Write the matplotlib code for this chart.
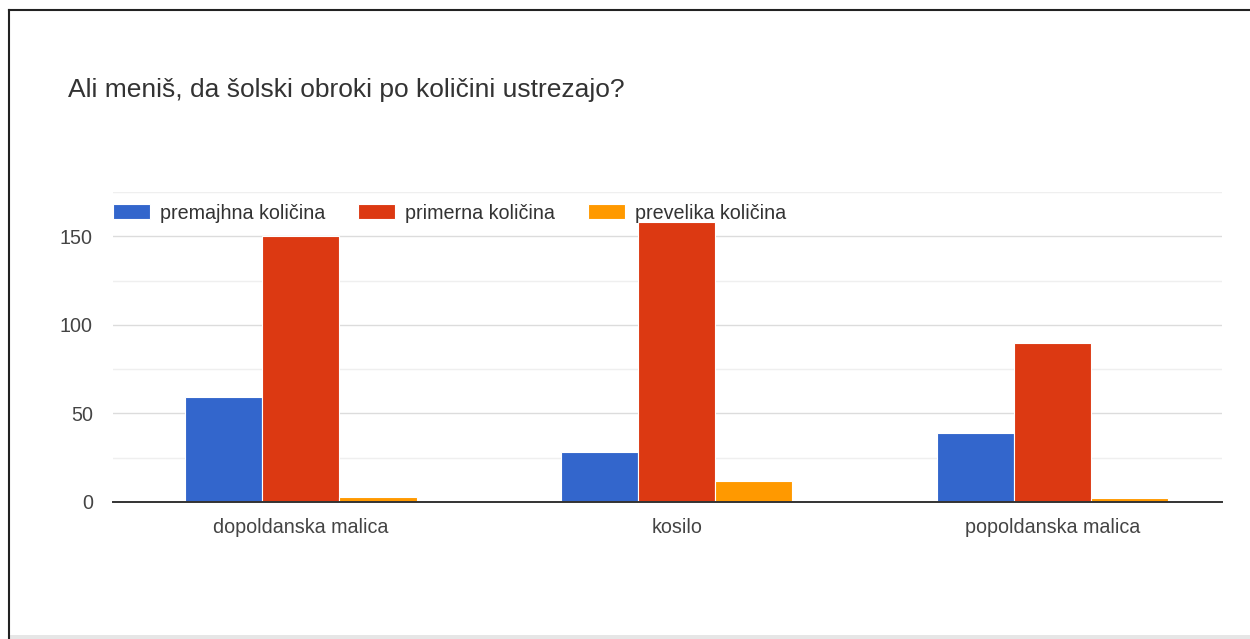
import numpy as np
import matplotlib.pyplot as plt
from matplotlib.patches import Rectangle
from matplotlib.lines import Line2D

plt.rcParams['font.family'] = ['Liberation Sans', 'DejaVu Sans']

# survey answers per meal
meals = ['dopoldanska malica', 'kosilo', 'popoldanska malica']
series_names = ['premajhna količina', 'primerna količina', 'prevelika količina']
too_small = [59, 28, 39]
just_right = [150, 158, 90]
too_big = [3, 12, 2]
colors = ['#3366cc', '#dc3912', '#ff9900']

fig = plt.figure(figsize=(12.5, 6.39), dpi=100)
ax = fig.add_axes([0.0904, 0.2144, 0.8872, 0.4851])

x = np.arange(len(meals))
w = 0.205
for i, (vals, name, c) in enumerate(zip([too_small, just_right, too_big], series_names, colors)):
    ax.bar(x + (i - 1) * w, vals, width=w, color=c, edgecolor='white',
           linewidth=0.8, label=name, zorder=3)

ax.set_xlim(-0.5, 2.45)
ax.set_ylim(0, 175)
ax.set_yticks([0, 50, 100, 150])
ax.set_yticks([25, 75, 125, 175], minor=True)
ax.set_xticks(x)
ax.set_xticklabels(meals)
ax.tick_params(axis='both', length=0, labelsize=14.2, labelcolor='#444444')
ax.tick_params(axis='y', pad=14.5)
ax.tick_params(axis='x', pad=11.5)
ax.tick_params(axis='y', which='minor', length=0)

ax.grid(axis='y', which='major', color='#dcdcdc', linewidth=1, zorder=0)
ax.grid(axis='y', which='minor', color='#efefef', linewidth=1, zorder=0)
for s in ['top', 'right', 'left']:
    ax.spines[s].set_visible(False)
ax.spines['bottom'].set_color('#333333')
ax.spines['bottom'].set_linewidth(1.4)
ax.spines['bottom'].set_zorder(4)

ax.legend(loc='center left', bbox_to_anchor=(0, 0.932), ncol=3, frameon=False,
          fontsize=14.2, handlelength=1.88, handleheight=0.81, handletextpad=0.5,
          columnspacing=1.68, borderpad=0, borderaxespad=0, labelcolor='#333333')

fig.text(68 / 1250, 1 - 90 / 639, 'Ali meniš, da šolski obroki po količini ustrezajo?',
         fontsize=19, color='#333333', va='center', ha='left')

# page frame around the chart
fig.add_artist(Line2D([9 / 1250, 9 / 1250], [0, 1 - 10 / 639], transform=fig.transFigure,
                      color='#222222', linewidth=1.5))
fig.add_artist(Line2D([9 / 1250, 1], [1 - 10 / 639, 1 - 10 / 639], transform=fig.transFigure,
                      color='#222222', linewidth=1.5))
fig.add_artist(Rectangle((10 / 1250, 0), 1, 4 / 639, transform=fig.transFigure,
                         color='#e6e6e6', linewidth=0))

fig.savefig('out.png', dpi=100)
